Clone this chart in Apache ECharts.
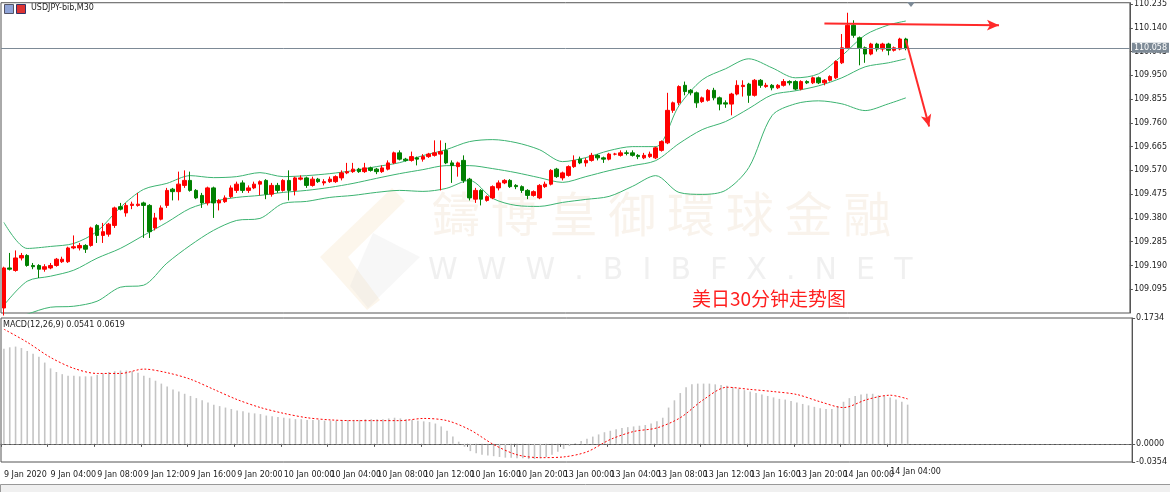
<!DOCTYPE html>
<html>
<head>
<meta charset="utf-8">
<script src="https://cdn.jsdelivr.net/npm/echarts@6/dist/echarts.min.js"></script>
<style>
  html, body { margin: 0; padding: 0; background: #fff; }
  #container { width: 1170px; height: 492px; }
</style>
</head>
<body>
<div id="container"></div>
<script>
// 30 min candles, [open, close, low, high]
const candles = [
  [109.02,109.18,108.99,109.185],[109.18,109.175,109.17,109.24],[109.17,109.22,109.165,109.25],[109.22,109.23,109.21,109.24],
  [109.23,109.19,109.185,109.235],[109.19,109.185,109.175,109.2],[109.19,109.175,109.14,109.195],[109.175,109.185,109.165,109.195],
  [109.18,109.19,109.175,109.2],[109.19,109.215,109.185,109.22],[109.205,109.215,109.2,109.225],[109.205,109.26,109.2,109.265],
  [109.26,109.265,109.255,109.31],[109.26,109.27,109.25,109.28],[109.27,109.255,109.24,109.275],[109.27,109.34,109.265,109.345],
  [109.35,109.31,109.28,109.355],[109.31,109.325,109.28,109.36],[109.315,109.355,109.305,109.36],[109.35,109.42,109.34,109.425],
  [109.425,109.415,109.41,109.44],[109.4,109.43,109.385,109.44],[109.43,109.435,109.415,109.445],[109.43,109.435,109.425,109.48],
  [109.44,109.43,109.30,109.445],[109.43,109.325,109.30,109.435],[109.34,109.38,109.33,109.4],[109.375,109.42,109.37,109.43],
  [109.43,109.49,109.42,109.5],[109.495,109.485,109.45,109.5],[109.485,109.515,109.45,109.565],[109.51,109.53,109.5,109.57],
  [109.53,109.49,109.485,109.565],[109.49,109.46,109.455,109.495],[109.47,109.44,109.42,109.48],[109.44,109.5,109.43,109.505],
  [109.5,109.44,109.38,109.505],[109.44,109.45,109.41,109.455],[109.445,109.46,109.44,109.47],[109.465,109.5,109.46,109.51],
  [109.49,109.515,109.48,109.525],[109.52,109.49,109.48,109.53],[109.49,109.5,109.48,109.51],[109.5,109.515,109.495,109.525],
  [109.515,109.525,109.47,109.53],[109.53,109.475,109.455,109.535],[109.475,109.51,109.465,109.52],[109.51,109.49,109.48,109.52],
  [109.49,109.53,109.485,109.535],[109.53,109.49,109.45,109.57],[109.49,109.54,109.47,109.545],[109.535,109.54,109.53,109.55],
  [109.54,109.51,109.5,109.545],[109.51,109.535,109.505,109.545],[109.535,109.525,109.52,109.54],[109.52,109.525,109.51,109.535],
  [109.525,109.535,109.52,109.545],[109.525,109.545,109.52,109.55],[109.54,109.56,109.53,109.57],[109.56,109.565,109.555,109.6],
  [109.565,109.575,109.56,109.6],[109.575,109.565,109.56,109.58],[109.565,109.58,109.56,109.6],[109.58,109.57,109.565,109.585],
  [109.575,109.565,109.555,109.58],[109.565,109.58,109.56,109.59],[109.575,109.6,109.57,109.61],[109.6,109.64,109.595,109.645],
  [109.64,109.615,109.61,109.65],[109.615,109.61,109.605,109.62],[109.61,109.625,109.605,109.645],[109.62,109.615,109.59,109.625],
  [109.615,109.625,109.605,109.635],[109.625,109.635,109.62,109.64],[109.63,109.64,109.625,109.69],[109.635,109.645,109.49,109.69],
  [109.65,109.6,109.595,109.68],[109.6,109.59,109.52,109.61],[109.585,109.6,109.545,109.605],[109.61,109.53,109.52,109.63],
  [109.535,109.46,109.45,109.54],[109.455,109.49,109.44,109.5],[109.49,109.455,109.43,109.495],[109.45,109.465,109.445,109.47],
  [109.46,109.505,109.455,109.51],[109.5,109.52,109.49,109.53],[109.52,109.53,109.515,109.535],[109.53,109.505,109.5,109.535],
  [109.51,109.505,109.495,109.515],[109.505,109.49,109.48,109.51],[109.49,109.47,109.455,109.495],[109.47,109.485,109.465,109.49],
  [109.46,109.51,109.455,109.515],[109.505,109.515,109.5,109.525],[109.515,109.57,109.51,109.575],[109.575,109.545,109.54,109.58],
  [109.54,109.56,109.53,109.565],[109.55,109.585,109.545,109.59],[109.585,109.61,109.58,109.63],[109.615,109.6,109.595,109.625],
  [109.6,109.61,109.585,109.62],[109.61,109.63,109.605,109.64],[109.63,109.62,109.61,109.635],[109.62,109.615,109.6,109.625],
  [109.615,109.635,109.61,109.64],[109.635,109.635,109.63,109.64],[109.63,109.64,109.625,109.65],[109.64,109.638,109.63,109.65],
  [109.64,109.63,109.625,109.65],[109.63,109.625,109.615,109.635],[109.62,109.63,109.615,109.64],[109.625,109.635,109.62,109.645],
  [109.62,109.66,109.615,109.665],[109.65,109.685,109.645,109.69],[109.68,109.81,109.675,109.88],[109.81,109.84,109.8,109.845],
  [109.84,109.905,109.83,109.91],[109.91,109.885,109.87,109.925],[109.89,109.88,109.87,109.895],[109.88,109.84,109.82,109.885],
  [109.845,109.86,109.84,109.865],[109.85,109.89,109.845,109.895],[109.89,109.86,109.85,109.9],[109.86,109.835,109.81,109.865],
  [109.84,109.835,109.82,109.85],[109.835,109.875,109.79,109.88],[109.875,109.91,109.87,109.93],[109.905,109.91,109.865,109.93],
  [109.915,109.87,109.84,109.92],[109.87,109.93,109.865,109.935],[109.93,109.91,109.9,109.935],[109.905,109.91,109.9,109.92],
  [109.91,109.9,109.89,109.915],[109.9,109.91,109.895,109.915],[109.91,109.925,109.905,109.935],[109.925,109.92,109.91,109.93],
  [109.925,109.895,109.89,109.93],[109.895,109.925,109.89,109.93],[109.925,109.92,109.915,109.93],[109.92,109.94,109.915,109.945],
  [109.94,109.92,109.915,109.945],[109.92,109.93,109.91,109.935],[109.93,109.945,109.925,109.95],[109.94,110.005,109.935,110.01],
  [110.0,110.06,109.995,110.115],[110.06,110.15,110.055,110.2],[110.15,110.11,110.1,110.17],[110.1,110.06,109.99,110.105],
  [110.06,110.035,110.0,110.065],[110.035,110.075,110.03,110.08],[110.075,110.055,110.045,110.08],[110.055,110.075,110.045,110.08],
  [110.075,110.05,110.03,110.08],[110.05,110.06,110.045,110.065],[110.055,110.095,110.05,110.1],[110.095,110.058,110.05,110.1]
];

// Bollinger band points, read every 4th bar
const bandIdx = [0,4,8,12,16,20,24,28,32,36,40,44,48,52,56,60,64,68,72,76,80,84,88,92,96,100,104,108,112,116,120,124,128,132,136,140,144,148,152,155];
const bandUpper = [109.362,109.258,109.266,109.278,109.326,109.422,109.494,109.518,109.549,109.541,109.545,109.561,109.545,109.549,109.557,109.569,109.585,109.601,109.629,109.653,
  109.685,109.693,109.681,109.653,109.605,109.621,109.649,109.665,109.665,109.828,109.932,109.976,110.016,109.980,109.940,109.956,110.028,110.111,110.151,110.167];
const bandMid = [109.031,109.127,109.147,109.171,109.219,109.258,109.310,109.362,109.418,109.446,109.462,109.470,109.482,109.490,109.502,109.518,109.538,109.557,109.573,109.589,
  109.589,109.577,109.561,109.541,109.522,109.545,109.569,109.589,109.609,109.677,109.733,109.765,109.817,109.872,109.888,109.908,109.940,109.984,110.000,110.016];
const bandLower = [108.96,108.995,109.023,109.027,109.047,109.103,109.111,109.199,109.270,109.330,109.370,109.378,109.438,109.446,109.462,109.470,109.482,109.490,109.486,109.498,
  109.530,109.458,109.430,109.426,109.442,109.454,109.466,109.506,109.549,109.482,109.474,109.490,109.581,109.789,109.836,109.848,109.836,109.809,109.836,109.860];

// MACD histogram (per bar) and signal (every 4th bar)
const macdHist = [
  0.131,0.133,0.134,0.132,0.128,0.124,0.120,0.112,0.104,0.099,0.096,0.094,0.094,0.093,0.093,0.093,
  0.095,0.097,0.099,0.100,0.101,0.101,0.100,0.098,0.094,0.091,0.087,0.083,0.079,0.075,0.072,0.069,
  0.066,0.063,0.060,0.057,0.054,0.052,0.050,0.048,0.046,0.045,0.043,0.042,0.041,0.039,0.038,0.037,
  0.036,0.035,0.034,0.034,0.033,0.033,0.033,0.032,0.032,0.032,0.033,0.033,0.033,0.033,0.034,0.034,
  0.034,0.034,0.035,0.036,0.035,0.034,0.033,0.032,0.031,0.030,0.028,0.024,0.018,0.010,0.003,-0.004,
  -0.010,-0.013,-0.015,-0.016,-0.017,-0.018,-0.019,-0.019,-0.020,-0.020,-0.021,-0.021,-0.020,-0.018,-0.015,
  -0.011,-0.007,-0.003,0.001,0.004,0.007,0.010,0.013,0.016,0.018,0.020,0.022,0.023,0.024,0.025,
  0.026,0.028,0.031,0.036,0.050,0.060,0.070,0.078,0.082,0.083,0.083,0.083,0.082,0.081,0.080,
  0.078,0.076,0.074,0.072,0.070,0.068,0.066,0.064,0.062,0.061,0.059,0.057,0.055,0.053,0.051,
  0.049,0.048,0.048,0.052,0.058,0.063,0.066,0.068,0.069,0.069,0.067,0.066,0.064,0.061,0.058,0.054
];
const macdSignal = [0.158,0.140,0.119,0.104,0.097,0.097,0.103,0.098,0.089,0.075,0.061,0.050,0.042,0.036,0.033,0.032,0.032,0.032,0.035,0.032,
  0.019,-0.001,-0.015,-0.019,-0.018,-0.011,0.006,0.017,0.022,0.036,0.061,0.078,0.075,0.072,0.068,0.058,0.050,0.061,0.067,0.0619];

const timeLabels = ['9 Jan 2020','9 Jan 04:00','9 Jan 08:00','9 Jan 12:00','9 Jan 16:00','9 Jan 20:00',
  '10 Jan 00:00','10 Jan 04:00','10 Jan 08:00','10 Jan 12:00','10 Jan 16:00','10 Jan 20:00',
  '13 Jan 00:00','13 Jan 04:00','13 Jan 08:00','13 Jan 12:00','13 Jan 16:00','13 Jan 20:00',
  '14 Jan 00:00','14 Jan 04:00'];
const priceTicks = [110.235,110.140,110.045,109.950,109.855,109.760,109.665,109.570,109.475,109.380,109.285,109.190,109.095];
const lastPrice = 110.058;
const slots = 194;

const cats = [];
for (let i = 0; i < slots; i++) cats.push(i);
const labelIdx = timeLabels.map((t, i) => i * 8);

function pairs(idx, vals) {
  return idx.map((k, i) => [k, vals[i]]);
}

const mychart = echarts.init(document.getElementById('container'));
const font = 'DejaVu Sans';
const band = (name, vals) => ({
  name, type: 'line', data: pairs(bandIdx, vals), smooth: 0.3, showSymbol: false,
  lineStyle: { color: '#3cb371', width: 1 }, silent: true, z: 1
});

const option = {
  animation: false,
  textStyle: { fontFamily: font },
  grid: [
    { left: 1, right: 30, top: 2, height: 311, show: true, borderColor: '#555', borderWidth: 1 },
    { left: 1, right: 30, top: 318, height: 144, show: true, borderColor: '#555', borderWidth: 1 }
  ],
  xAxis: [
    { type: 'category', data: cats, gridIndex: 0, boundaryGap: true,
      axisLine: { show: false }, axisTick: { show: false }, axisLabel: { show: false }, splitLine: { show: false } },
    { type: 'category', data: cats, gridIndex: 1, boundaryGap: true,
      axisLine: { lineStyle: { color: '#555' } },
      axisTick: { show: true, customValues: labelIdx, lineStyle: { color: '#555' }, length: 3 },
      axisLabel: { customValues: labelIdx, formatter: (v) => timeLabels[Number(v) / 8] || '',
        fontSize: 8, color: '#222', align: 'left', margin: 9, fontFamily: font, hideOverlap: false },
      splitLine: { show: false } }
  ],
  yAxis: [
    { type: 'value', gridIndex: 0, position: 'right', min: 109.0, max: 110.24, scale: true,
      axisLine: { show: true, lineStyle: { color: '#555' } },
      axisTick: { show: true, customValues: priceTicks, length: 3, inside: false },
      axisLabel: { customValues: priceTicks, formatter: (v) => v.toFixed(3), fontSize: 8, color: '#222', margin: 4 },
      splitLine: { show: false } },
    { type: 'value', gridIndex: 1, position: 'right', min: -0.025, max: 0.1734,
      axisLine: { show: true, lineStyle: { color: '#555' } },
      axisTick: { show: true, customValues: [0.1734, 0, -0.025], length: 3 },
      axisLabel: { customValues: [0.1734, 0, -0.025], formatter: (v) => v < 0 ? '-0.0354' : v.toFixed(4),
        fontSize: 8, color: '#222', margin: 4 },
      splitLine: { show: false } }
  ],
  series: [
    band('upper', bandUpper), band('mid', bandMid), band('lower', bandLower),
    { name: 'USDJPY', type: 'candlestick', data: candles, barWidth: 4, z: 3,
      itemStyle: { color: '#ff0000', color0: '#008000', borderColor: '#ff0000', borderColor0: '#008000', borderWidth: 1 },
      markLine: {
        silent: true, symbol: ['none', 'none'], animation: false,
        data: [
          { yAxis: lastPrice, lineStyle: { color: '#7d8a96', type: 'solid', width: 1 },
            label: { show: true, position: 'end', formatter: lastPrice.toFixed(3), color: '#fff',
              backgroundColor: '#7d8a96', fontSize: 8, padding: [1, 2], distance: 2 } },
          [ { coord: [141, 110.157], symbol: 'none', lineStyle: { color: '#ff2a2a', width: 2, type: 'solid' }, label: { show: false } },
            { coord: [170.5, 110.150], symbol: 'arrow', symbolSize: [8, 12] } ],
          [ { coord: [155.3, 110.09], symbol: 'none', lineStyle: { color: '#ff2a2a', width: 2, type: 'solid' }, label: { show: false } },
            { coord: [159.2, 109.745], symbol: 'arrow', symbolSize: [8, 12] } ]
        ]
      } },
    { name: 'MACD', type: 'bar', xAxisIndex: 1, yAxisIndex: 1, data: macdHist, barWidth: 1.6,
      itemStyle: { color: '#c4c4c4' },
      markLine: { silent: true, symbol: 'none', label: { show: false },
        lineStyle: { color: '#777', type: [3, 2], width: 1 }, data: [{ yAxis: 0 }] } },
    { name: 'Signal', type: 'line', xAxisIndex: 1, yAxisIndex: 1, data: pairs(bandIdx, macdSignal),
      smooth: 0.3, showSymbol: false, lineStyle: { color: '#ff0000', width: 1, type: [2, 2] }, z: 4 }
  ],
  graphic: [
    { type: 'text', left: 432, top: 190, z: 0, silent: true,
      style: { text: '鑄 博 皇 御 環 球 金 融', font: '48px "Noto Sans CJK TC"', fill: 'rgba(225,195,160,0.2)' } },
    { type: 'text', left: 428, top: 256, z: 0, silent: true,
      style: { text: 'W  W  W  .  B  I  B  F  X  .  N  E  T', font: '30px "DejaVu Sans"', fill: 'rgba(205,205,205,0.3)' } },
    { type: 'polygon', z: 0, silent: true,
      shape: { points: [[320, 257], [392, 188], [405, 201], [348, 257], [380, 300], [367, 310]] },
      style: { fill: 'rgba(240,215,170,0.22)' } },
    { type: 'polygon', z: 0, silent: true,
      shape: { points: [[373, 233], [420, 257], [368, 308], [350, 286]] },
      style: { fill: 'rgba(220,220,220,0.22)' } },
    { type: 'text', left: 692, top: 289,
      style: { text: '美日30分钟走势图', font: '19px "Noto Sans CJK SC"', fill: '#ff2020' } },
    { type: 'rect', left: 4, top: 4, shape: { width: 9, height: 9 }, style: { fill: '#8fa4d8', stroke: '#556' } },
    { type: 'rect', left: 16, top: 4, shape: { width: 9, height: 9 }, style: { fill: '#d33', stroke: '#336' } },
    { type: 'text', left: 31, top: 4, style: { text: 'USDJPY-bib,M30', font: '8px "DejaVu Sans"', fill: '#222' } },
    { type: 'text', left: 3, top: 321, style: { text: 'MACD(12,26,9) 0.0541 0.0619', font: '8px "DejaVu Sans"', fill: '#222' } },
    { type: 'polygon', shape: { points: [[907, 2], [915, 2], [911, 7]] }, style: { fill: '#7d8a96' } },
    { type: 'rect', left: 0, top: 484, shape: { width: 1170, height: 8 }, style: { fill: '#f0f0f0', stroke: '#999' } }
  ]
};

mychart.setOption(option);

// the last time label gets dropped by the axis, so place it by hand at its bar
const lastX = mychart.convertToPixel({ xAxisIndex: 1 }, 152);
mychart.setOption({
  graphic: [{ id: 'lastLabel', type: 'text', left: lastX, top: 468,
    style: { text: timeLabels[19], font: '8px "DejaVu Sans"', fill: '#222' } }]
});
</script>
</body>
</html>
